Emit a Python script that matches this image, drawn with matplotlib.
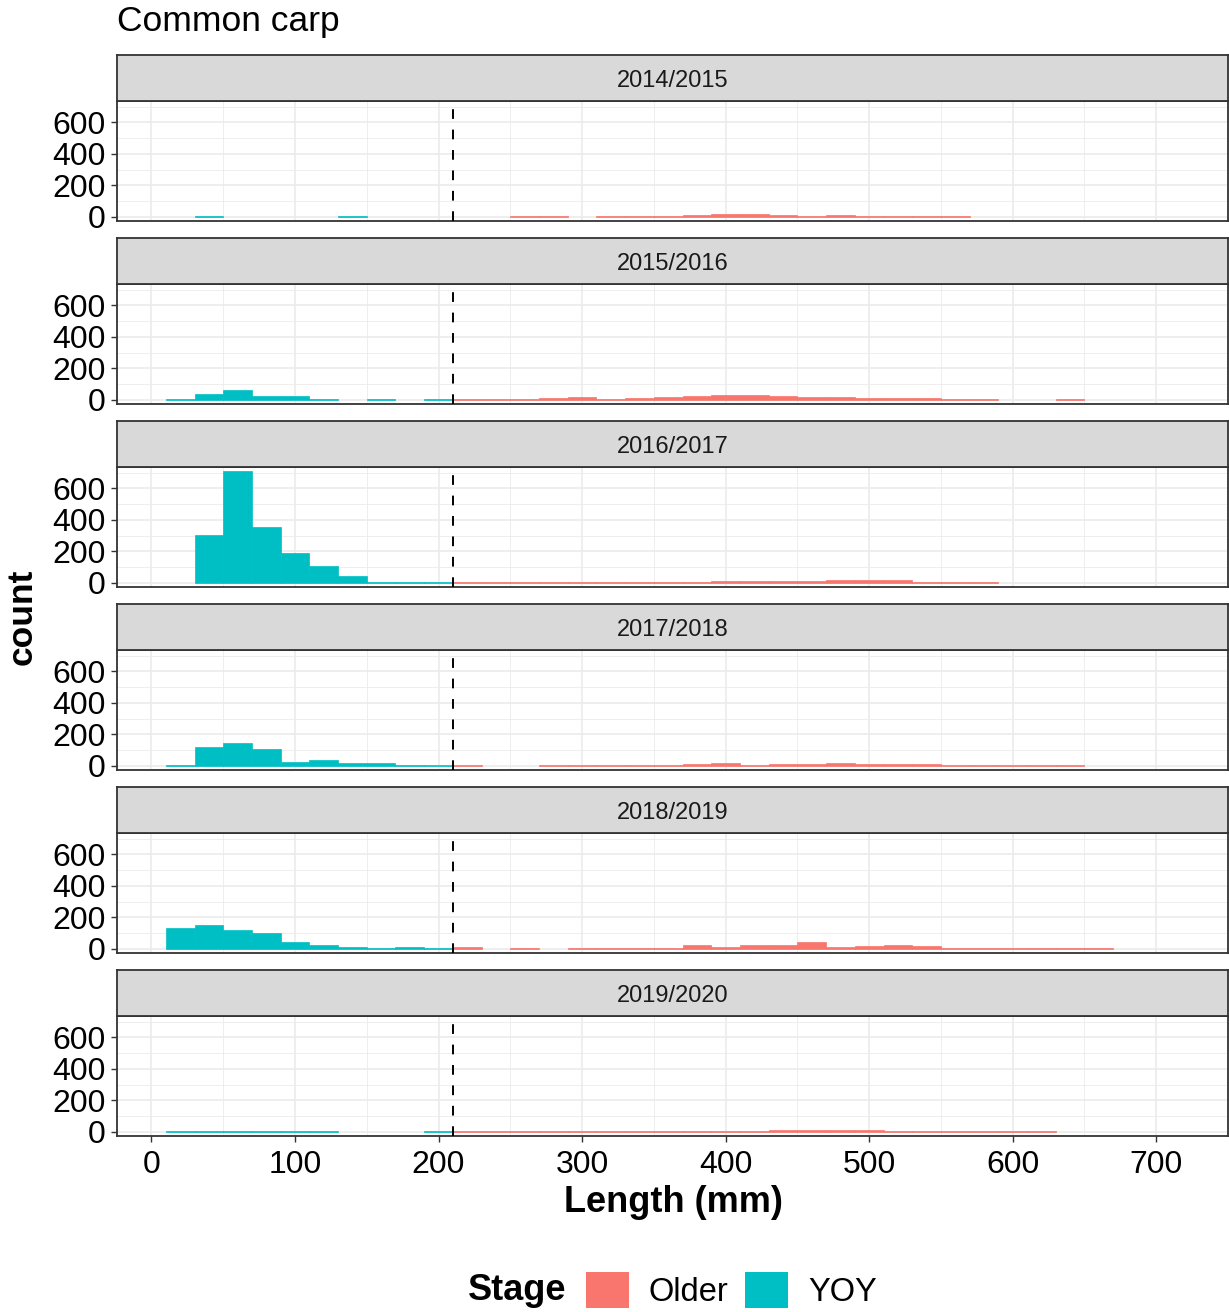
import numpy as np
import matplotlib
matplotlib.use("Agg")
import matplotlib.pyplot as plt
from matplotlib.patches import Patch

plt.rcParams['font.family'] = ['Liberation Sans', 'DejaVu Sans']

# histogram bins: 20 mm wide, edges 10, 30, ..., 710
bin_mid = np.arange(20, 701, 20)

seasons = ["2014/2015", "2015/2016", "2016/2017", "2017/2018", "2018/2019", "2019/2020"]

#                0    1    2    3    4    5   6   7  8  9 10 11 12 13 14 15 16 17 18 19 20 21 22 23 24 25 26 27 28 29 30 31 32 33 34
yoy_1415 =     [ 0,   3,   0,   0,   0,   0,  3,  0, 0, 0, 0, 0, 0, 0, 0, 0, 0, 0, 0, 0, 0, 0, 0, 0, 0, 0, 0, 0, 0, 0, 0, 0, 0, 0, 0]
older_1415 =   [ 0,   0,   0,   0,   0,   0,  0,  0, 0, 0, 0, 0, 2, 2, 0, 2, 2, 5,10,15,15,10, 3,10, 2, 2, 2, 2, 0, 0, 0, 0, 0, 0, 0]

yoy_1516 =     [ 2,  34,  59,  25,  25,   2,  0,  2, 0, 2, 0, 0, 0, 0, 0, 0, 0, 0, 0, 0, 0, 0, 0, 0, 0, 0, 0, 0, 0, 0, 0, 0, 0, 0, 0]
older_1516 =   [ 0,   0,   0,   0,   0,   0,  0,  0, 0, 0, 2, 2, 2, 9,16, 3, 9,16,22,32,32,25,16,16, 9, 9, 9, 3, 3, 0, 0, 2, 0, 0, 0]

yoy_1617 =     [ 0, 305, 707, 352, 190, 105, 40,  7, 7, 2, 0, 0, 0, 0, 0, 0, 0, 0, 0, 0, 0, 0, 0, 0, 0, 0, 0, 0, 0, 0, 0, 0, 0, 0, 0]
older_1617 =   [ 0,   0,   0,   0,   0,   0,  0,  0, 0, 0, 2, 5, 2, 2, 2, 2, 5, 2, 2,13,13,13,13,18,18,18, 2, 3, 3, 0, 0, 0, 0, 0, 0]

yoy_1718 =     [ 3, 122, 142, 104,  25,  34, 20, 16, 5, 4, 0, 0, 0, 0, 0, 0, 0, 0, 0, 0, 0, 0, 0, 0, 0, 0, 0, 0, 0, 0, 0, 0, 0, 0, 0]
older_1718 =   [ 0,   0,   0,   0,   0,   0,  0,  0, 0, 2, 2, 0, 0, 3, 3, 3, 3, 3,10,16, 5,12,12,16,12,12, 8, 5, 5, 2, 5, 2, 0, 0, 0]

yoy_1819 =     [133, 152, 118, 100, 43,  25,  9,  3, 9, 3, 0, 0, 0, 0, 0, 0, 0, 0, 0, 0, 0, 0, 0, 0, 0, 0, 0, 0, 0, 0, 0, 0, 0, 0, 0]
older_1819 =   [ 0,   0,   0,   0,   0,   0,  0,  0, 0, 0, 8, 0, 3, 0, 3, 3, 5, 3,25,11,25,25,42,14,20,25,20, 3, 5, 5, 5, 2, 2, 0, 0]

yoy_1920 =     [ 3,   3,   6,   3,   6,   3,  0,  0, 0, 3, 0, 0, 0, 0, 0, 0, 0, 0, 0, 0, 0, 0, 0, 0, 0, 0, 0, 0, 0, 0, 0, 0, 0, 0, 0]
older_1920 =   [ 0,   0,   0,   0,   0,   0,  0,  0, 0, 0, 2, 2, 2, 2, 2, 2, 2, 4, 4, 6, 6, 9, 9, 9,14, 5, 5, 5, 2, 2, 2, 0, 0, 0, 0]

yoy_counts = [yoy_1415, yoy_1516, yoy_1617, yoy_1718, yoy_1819, yoy_1920]
older_counts = [older_1415, older_1516, older_1617, older_1718, older_1819, older_1920]

cutoff = 210

col_older = "#F8766D"
col_yoy = "#00BFC4"
border = "#333333"

W, H = 1229, 1312
fig = plt.figure(figsize=(W / 100, H / 100), dpi=100)

left = 117 / W
width = 1111 / W

for i, season in enumerate(seasons):
    top_px = 101 + 183 * i
    ax = fig.add_axes([left, 1 - (top_px + 120) / H, width, 120 / H])
    yoy = np.array(yoy_counts[i], dtype=float)
    older = np.array(older_counts[i], dtype=float)

    m = yoy > 0
    ax.bar(bin_mid[m], yoy[m], width=20, color=col_yoy, edgecolor=col_yoy, linewidth=0.5, zorder=2)
    m = older > 0
    ax.bar(bin_mid[m], older[m], bottom=yoy[m], width=20, color=col_older,
           edgecolor=col_older, linewidth=0.5, zorder=2)

    ax.axvline(cutoff, color="black", lw=1.4, linestyle=(0, (5, 5.5)), zorder=3)

    ax.set_xlim(-24, 742)
    ax.set_ylim(-27, 735)
    ax.set_xticks(np.arange(0, 701, 100))
    ax.set_xticks(np.arange(50, 751, 100), minor=True)
    ax.set_yticks([0, 200, 400, 600])
    ax.set_yticks([100, 300, 500, 700], minor=True)
    ax.grid(which="major", color="#EBEBEB", lw=1.2, zorder=0)
    ax.grid(which="minor", color="#EBEBEB", lw=0.6, zorder=0)
    ax.set_axisbelow(True)
    ax.tick_params(axis="y", which="major", labelsize=23, length=4, width=1, color=border, pad=4)
    ax.tick_params(which="minor", length=0)
    if i < len(seasons) - 1:
        ax.tick_params(axis="x", which="major", length=0, labelbottom=False)
    else:
        ax.tick_params(axis="x", which="major", labelsize=23, length=4, width=1, color=border, pad=6)
    for s in ax.spines.values():
        s.set_color(border)
        s.set_linewidth(1.3)

    strip = fig.add_axes([left, 1 - (top_px) / H, width, 46 / H])
    strip.set_facecolor("#D9D9D9")
    strip.set_xticks([])
    strip.set_yticks([])
    for s in strip.spines.values():
        s.set_color(border)
        s.set_linewidth(1.3)
    strip.text(0.5, 0.44, season, ha="center", va="center", fontsize=17, color="#1A1A1A",
               transform=strip.transAxes)

fig.text(117 / W, 1 - 22 / H, "Common carp", ha="left", va="center", fontsize=25.5)
fig.text(673 / W, 1 - 1202 / H, "Length (mm)", ha="center", va="center", fontsize=26, fontweight="bold")
fig.text(22 / W, 1 - 617 / H, "count", ha="center", va="center", rotation=90, fontsize=25.5, fontweight="bold")

fig.text(566 / W, 1 - 1290 / H, "Stage", ha="right", va="center", fontsize=26, fontweight="bold")
handles = [Patch(facecolor=col_older, edgecolor="none", label="Older"),
           Patch(facecolor=col_yoy, edgecolor="none", label="YOY")]
fig.legend(handles=handles, loc="center left", bbox_to_anchor=(586 / W, 1 - 1290 / H), ncol=2,
           frameon=False, fontsize=23.5, handlelength=1.33, handleheight=1.33,
           handletextpad=0.6, columnspacing=0.5, borderaxespad=0, borderpad=0)

fig.savefig("out.png", dpi=100)
